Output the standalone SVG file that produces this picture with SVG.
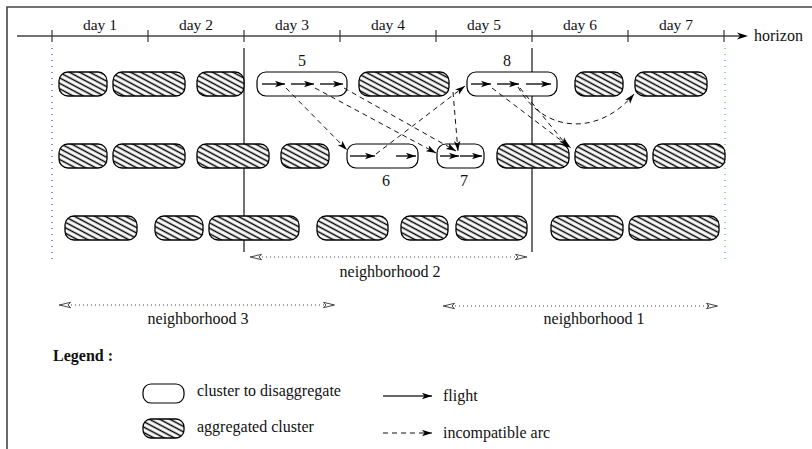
<svg xmlns="http://www.w3.org/2000/svg" width="812" height="449" viewBox="0 0 812 449">
  <style>
    text { font-family: "Liberation Serif", "Times New Roman", serif; font-size: 16px; fill: #111; }
    .day { text-anchor: middle; font-size: 15.5px; }
    .num { text-anchor: middle; }
    .mid { text-anchor: middle; }
    .bold { font-weight: bold; }
    .agg { fill: url(#hatch); stroke: #000; stroke-width: 1.3; }
    .dis { fill: #fff; stroke: #000; stroke-width: 1.2; }
    .axis { stroke: #444; stroke-width: 1.3; fill: none; }
    .wall { stroke: #111; stroke-width: 1.2; }
    .flight { stroke: #333; stroke-width: 1.6; fill: none; marker-end: url(#ah); }
    .arc { stroke: #111; stroke-width: 1; stroke-dasharray: 5 4; fill: none; marker-end: url(#ah); }
    .nbh { stroke: #444; stroke-width: 1; stroke-dasharray: 1 3; fill: none; marker-start: url(#oa); marker-end: url(#oa); }
  </style>
  <defs>
    <pattern id="hatch" width="8" height="4.8" patternUnits="userSpaceOnUse" patternTransform="rotate(28)">
      <rect width="8" height="4.8" fill="#fff"/>
      <line x1="0" y1="2.4" x2="8" y2="2.4" stroke="#000" stroke-width="1.5"/>
    </pattern>
    <marker id="ah" viewBox="0 0 10 7" refX="10" refY="3.5" markerWidth="10" markerHeight="7" orient="auto" markerUnits="userSpaceOnUse">
      <path d="M0,0.3 L10,3.5 L0,6.7 L2.5,3.5 z" fill="#000"/>
    </marker>
    <marker id="oa" viewBox="0 0 12 7" refX="12" refY="3.5" markerWidth="12" markerHeight="7" orient="auto-start-reverse" markerUnits="userSpaceOnUse">
      <path d="M0.5,0.8 L11.5,3.5 L0.5,6.2 L3,3.5 z" fill="#fff" stroke="#333" stroke-width="0.9"/>
    </marker>
  </defs>

  <rect width="812" height="449" fill="#fff"/>
  <!-- frame -->
  <path d="M7,449 V7 H812" fill="none" stroke="#444" stroke-width="1.6"/>

  <!-- time axis -->
  <g id="axis">
    <line class="axis" x1="17" y1="36" x2="741" y2="36"/>
    <path d="M737,32.5 L748,36 L737,39.5 L740,36 z" fill="#000"/>
    <path class="axis" d="M52,30V42 M148,30V42 M244,30V42 M340,30V42 M436,30V42 M532,30V42 M628,30V42 M724,30V42"/>
    <text class="day" x="100" y="30">day 1</text>
    <text class="day" x="196" y="30">day 2</text>
    <text class="day" x="292" y="30">day 3</text>
    <text class="day" x="388" y="30">day 4</text>
    <text class="day" x="484" y="30">day 5</text>
    <text class="day" x="580" y="30">day 6</text>
    <text class="day" x="676" y="30">day 7</text>
    <text x="754" y="41">horizon</text>
  </g>

  <!-- horizon bounds and neighborhood borders -->
  <g id="bounds">
    <line x1="52" y1="48" x2="52" y2="263" stroke="#3355ee" stroke-width="1.3" stroke-dasharray="1 5"/>
    <line x1="725" y1="48" x2="725" y2="263" stroke="#44cc44" stroke-width="1.3" stroke-dasharray="1 5"/>
    <line class="wall" x1="244" y1="48" x2="244" y2="252"/>
    <line class="wall" x1="532" y1="48" x2="532" y2="252"/>
  </g>

  <!-- row 1 -->
  <g id="r1c1"><rect class="agg" x="59" y="72" width="48" height="24" rx="9"/></g>
  <g id="r1c2"><rect class="agg" x="113" y="72" width="72" height="24" rx="9"/></g>
  <g id="r1c3"><rect class="agg" x="197" y="72" width="47" height="24" rx="9"/></g>
  <g id="cluster5"><rect class="dis" x="257" y="72" width="90" height="24" rx="9"/><text class="num" x="302" y="66">5</text></g>
  <g id="r1c5"><rect class="agg" x="359" y="72" width="90" height="24" rx="9"/></g>
  <g id="cluster8"><rect class="dis" x="467" y="72" width="90" height="24" rx="9"/><text class="num" x="507" y="66">8</text></g>
  <g id="r1c7"><rect class="agg" x="575" y="72" width="48" height="24" rx="9"/></g>
  <g id="r1c8"><rect class="agg" x="635" y="72" width="72" height="24" rx="9"/></g>

  <!-- row 2 -->
  <g id="r2c1"><rect class="agg" x="59" y="144" width="48" height="24" rx="9"/></g>
  <g id="r2c2"><rect class="agg" x="113" y="144" width="72" height="24" rx="9"/></g>
  <g id="r2c3"><rect class="agg" x="197" y="144" width="72" height="24" rx="9"/></g>
  <g id="r2c4"><rect class="agg" x="281" y="144" width="48" height="24" rx="9"/></g>
  <g id="cluster6"><rect class="dis" x="347" y="144" width="71" height="24" rx="9"/><text class="num" x="386" y="186">6</text></g>
  <g id="cluster7"><rect class="dis" x="437" y="144" width="47" height="24" rx="9"/><text class="num" x="464" y="186">7</text></g>
  <g id="r2c7"><rect class="agg" x="497" y="144" width="72" height="24" rx="9"/></g>
  <g id="r2c8"><rect class="agg" x="575" y="144" width="72" height="24" rx="9"/></g>
  <g id="r2c9"><rect class="agg" x="653" y="144" width="72" height="24" rx="9"/></g>

  <!-- row 3 -->
  <g id="r3c1"><rect class="agg" x="65" y="216" width="72" height="24" rx="9"/></g>
  <g id="r3c2"><rect class="agg" x="155" y="216" width="48" height="24" rx="9"/></g>
  <g id="r3c3"><rect class="agg" x="209" y="216" width="90" height="24" rx="9"/></g>
  <g id="r3c4"><rect class="agg" x="317" y="216" width="71" height="24" rx="9"/></g>
  <g id="r3c5"><rect class="agg" x="401" y="216" width="47" height="24" rx="9"/></g>
  <g id="r3c6"><rect class="agg" x="456" y="216" width="71" height="24" rx="9"/></g>
  <g id="r3c7"><rect class="agg" x="551" y="216" width="72" height="24" rx="9"/></g>
  <g id="r3c8"><rect class="agg" x="629" y="216" width="90" height="24" rx="9"/></g>

  <!-- flights and incompatible arcs -->
  <g id="connectors">
    <line class="flight" x1="262" y1="84" x2="285" y2="84"/>
    <line class="flight" x1="291" y1="84" x2="314" y2="84"/>
    <line class="flight" x1="320" y1="84" x2="343" y2="84"/>
    <line class="flight" x1="471" y1="84" x2="491" y2="84"/>
    <line class="flight" x1="497" y1="84" x2="519" y2="84"/>
    <line class="flight" x1="526" y1="84" x2="551" y2="84"/>
    <line class="flight" x1="350" y1="156" x2="375" y2="156"/>
    <line class="flight" x1="396" y1="156" x2="416" y2="156"/>
    <line class="flight" x1="440" y1="156" x2="459" y2="156"/>
    <line class="flight" x1="460" y1="156" x2="482" y2="156"/>

    <line class="arc" x1="286" y1="88" x2="347" y2="150"/>
    <line class="arc" x1="315" y1="88" x2="436" y2="153"/>
    <line class="arc" x1="344" y1="88" x2="456" y2="151"/>
    <line class="arc" x1="376" y1="154" x2="465" y2="86"/>
    <line class="arc" x1="453" y1="92" x2="458" y2="151"/>
    <line class="arc" x1="492" y1="88" x2="571" y2="148"/>
    <line class="arc" x1="520" y1="88" x2="568" y2="147"/>
    <path class="arc" d="M518,87 C545,135 600,135 634,94"/>

    <line class="nbh" x1="250" y1="257" x2="527" y2="257"/>
    <line class="nbh" x1="59" y1="305" x2="335" y2="305"/>
    <line class="nbh" x1="443" y1="306" x2="718" y2="306"/>
  </g>

  <!-- neighborhood labels -->
  <g id="labels">
    <text class="mid" x="390" y="277">neighborhood 2</text>
    <text class="mid" x="198" y="324">neighborhood 3</text>
    <text class="mid" x="594" y="324">neighborhood 1</text>
  </g>

  <!-- legend -->
  <g id="legend">
    <text class="bold" x="53" y="361">Legend :</text>
    <rect class="dis" x="143" y="384" width="41" height="19" rx="8"/>
    <text x="197" y="396">cluster to disaggregate</text>
    <rect class="agg" x="143" y="419" width="41" height="19" rx="8"/>
    <text x="197" y="432">aggregated cluster</text>
    <line class="flight" x1="383" y1="396" x2="432" y2="396"/>
    <text x="443" y="401">flight</text>
    <line class="arc" x1="383" y1="433" x2="432" y2="433"/>
    <text x="443" y="438">incompatible arc</text>
  </g>
</svg>
